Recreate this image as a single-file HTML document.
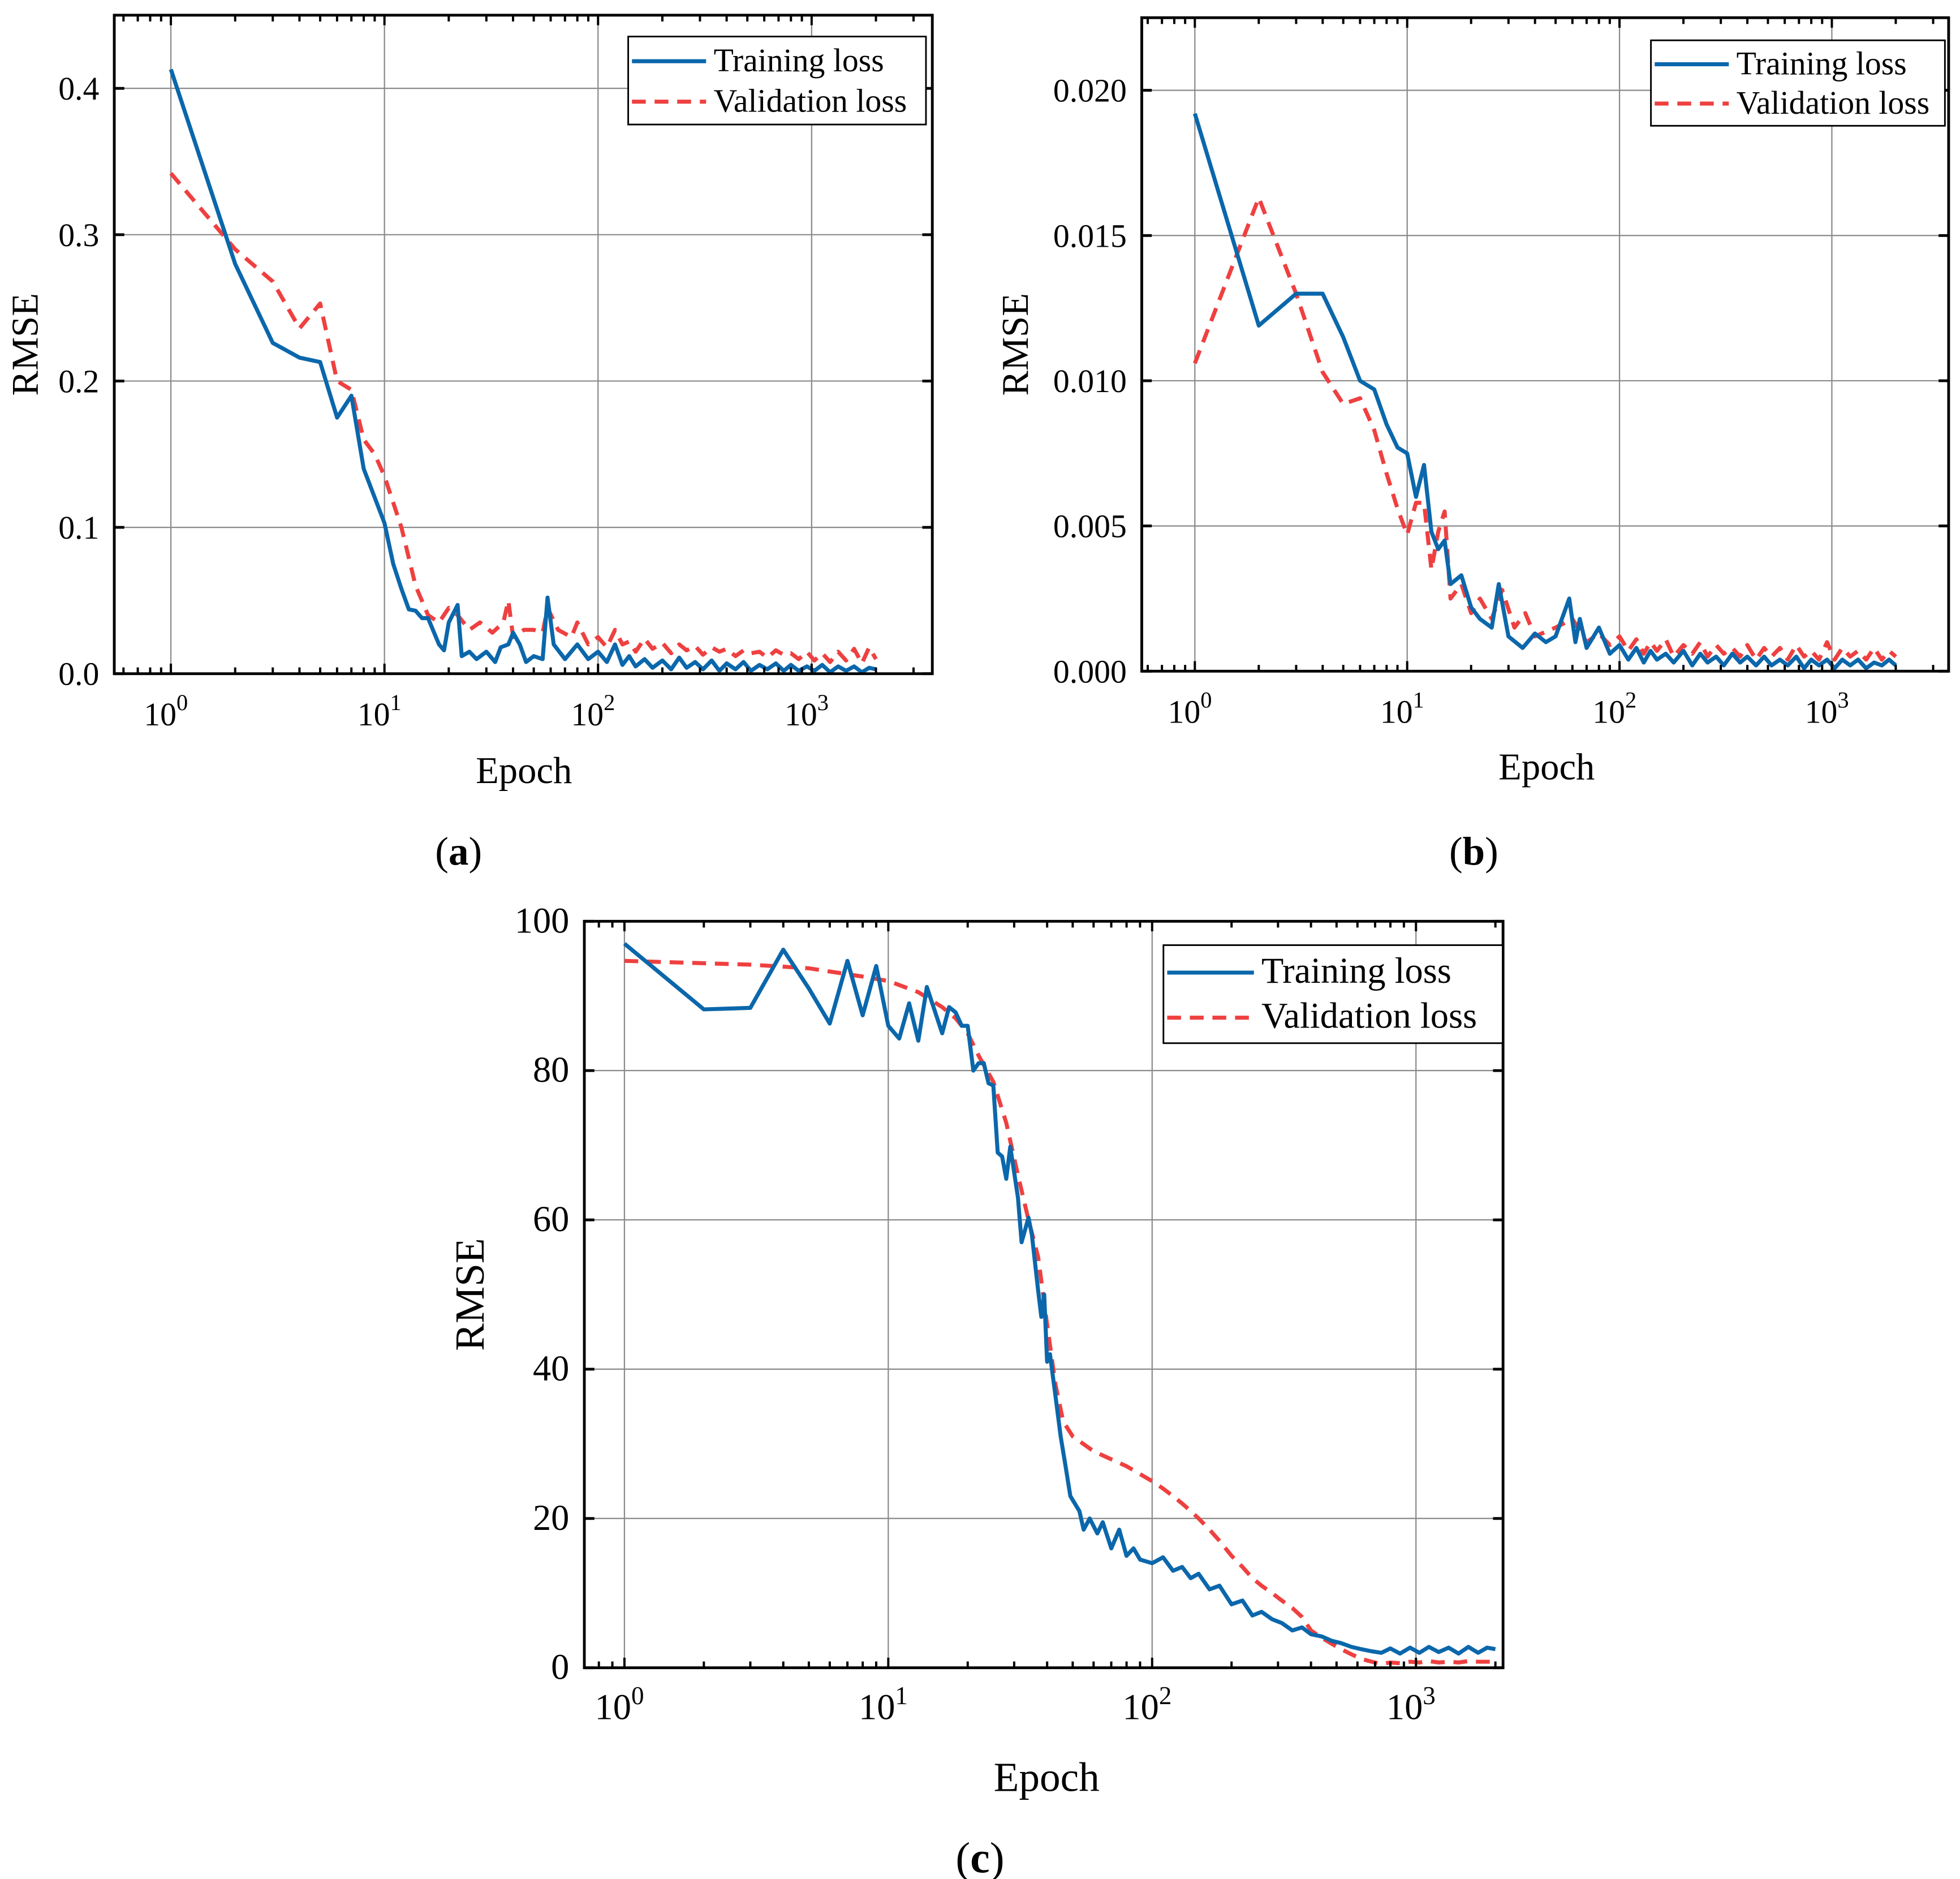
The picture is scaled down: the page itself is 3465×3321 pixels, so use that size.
<!DOCTYPE html>
<html><head><meta charset="utf-8"><title>RMSE loss curves</title>
<style>html,body{margin:0;padding:0;background:#fff}svg{display:block}</style></head>
<body>
<svg id="fig" xmlns="http://www.w3.org/2000/svg" width="3465" height="3321" viewBox="0 0 1560 1495" font-family="'Liberation Serif', serif"></svg>
<script>
// ---- Data ----
const tailEpochs=[100,110,120,130,140,150,165,180,200,220,240,260,285,310,340,370,400,440,480,520,570,620,680,740,800,870,950,1030,1120,1220,1330,1450,1580,1720,1860,2000];
const aTrainEpochs=[1,2,3,4,5,6,7,8,10,11,12,13,14,15,16,18,19,20,22,23,25,27,30,33,35,38,40,43,46,50,55,58,62,70,80,90];
const aTrainValues=[0.413,0.28,0.226,0.216,0.213,0.175,0.19,0.14,0.103,0.075,0.058,0.044,0.043,0.038,0.038,0.02,0.016,0.035,0.047,0.012,0.015,0.01,0.015,0.008,0.018,0.02,0.028,0.02,0.008,0.012,0.01,0.052,0.02,0.01,0.02,0.01];
const aTrainTail=[0.015,0.008,0.02,0.006,0.012,0.005,0.01,0.004,0.009,0.003,0.011,0.004,0.008,0.003,0.009,0.002,0.007,0.003,0.008,0.002,0.006,0.003,0.007,0.002,0.006,0.002,0.005,0.002,0.006,0.001,0.005,0.002,0.005,0.001,0.004,0.003];
const aValEpochs=[1,2,3,4,5,6,7,8,9,10,12,14,16,18,20,22,25,28,32,36,38,40,45,50,55,58,65,75,80,90];
const aValValues=[0.342,0.29,0.268,0.236,0.253,0.2,0.194,0.16,0.15,0.135,0.1,0.06,0.04,0.035,0.045,0.04,0.03,0.035,0.028,0.035,0.05,0.025,0.03,0.03,0.028,0.045,0.03,0.025,0.035,0.02];
const aValTail=[0.025,0.018,0.03,0.02,0.022,0.015,0.024,0.017,0.021,0.014,0.02,0.016,0.019,0.013,0.018,0.015,0.017,0.012,0.016,0.014,0.015,0.011,0.016,0.013,0.014,0.01,0.015,0.009,0.014,0.008,0.015,0.009,0.017,0.007,0.018,0.01];
const bTrainEpochs=[1,2,3,4,5,6,7,8,9,10,11,12,13,14,15,16,18,20,22,25,27,30,35,40,45,50,58,62,65,70,80,90];
const bTrainValues=[0.0192,0.0119,0.013,0.013,0.0115,0.01,0.0097,0.0085,0.0077,0.0075,0.006,0.0071,0.0048,0.0042,0.0045,0.003,0.0033,0.0022,0.0018,0.0015,0.003,0.0012,0.0008,0.0013,0.001,0.0012,0.0025,0.001,0.0018,0.0008,0.0015,0.0006];
const bTrainTail=[0.0009,0.0004,0.0008,0.0003,0.0007,0.0004,0.0006,0.0003,0.0007,0.0002,0.0006,0.0003,0.0005,0.0002,0.0006,0.0003,0.0005,0.0002,0.0005,0.0002,0.0004,0.0002,0.0005,0.0001,0.0004,0.0002,0.0004,0.0001,0.0004,0.0002,0.0004,0.0001,0.0003,0.0002,0.0004,0.0002];
const bValEpochs=[1,2,3,4,5,6,7,8,9,10,11,12,13,14,15,16,18,20,22,25,28,32,36,40,50,60,70,80,90];
const bValValues=[0.0106,0.0163,0.013,0.0103,0.0092,0.0094,0.0083,0.0068,0.0056,0.0047,0.0058,0.0058,0.0035,0.0048,0.0055,0.0025,0.003,0.002,0.0025,0.0018,0.0028,0.0015,0.002,0.0012,0.0015,0.0018,0.001,0.0013,0.0009];
const bValTail=[0.0012,0.0007,0.0011,0.0006,0.001,0.0007,0.0011,0.0005,0.0009,0.0006,0.001,0.0005,0.0009,0.0006,0.0008,0.0005,0.0009,0.0004,0.0008,0.0005,0.0008,0.0004,0.0009,0.0005,0.0007,0.0004,0.001,0.0004,0.0008,0.0005,0.0007,0.0004,0.0008,0.0004,0.0007,0.0005];
const cTrainEpochs=[1,2,3,4,5,6,7,8,9,10,11,12,13,14,15,16,17,18,19,20,21,22,23,24,25,26,27,28,29,31,32,34,35,37,38,39,40,41,43,45,47,49,53,55,58,62,65,70,75,80,85,90];
const cTrainValues=[97,88.2,88.4,96.2,91,86.3,94.7,87.4,94,86,84.3,89,84,91.2,88,85,88.5,87.8,86,86,80,81,81,78.3,78,69,68.5,65.5,69.8,63,57,60.3,58,50.5,47,50,41,42,36.5,31,27,23,21,18.5,20,18,19.5,16,18.5,15,16,14.5];
const cTrainTail=[14,14.8,13,13.5,12,12.6,10.5,11,8.5,9,7,7.5,6.5,6,5,5.4,4.5,4.2,3.6,3.3,2.8,2.5,2.2,2.0,2.6,1.9,2.7,2.0,2.8,2.1,2.7,1.9,2.8,2.0,2.7,2.5];
const cValEpochs=[1,3,5,8,10,13,16,18,20,22,25,28,31,34,37,40,43,46,50,60,80];
const cValValues=[94.7,94.2,93.7,92.6,92,90.5,88.5,87,85,82,78.5,73,66,60,55,46,38,33,31,29,27];
const cValTail=[25,24,23,22,21,20,18.5,17,15,13.5,12,11,10,9,8,6.8,5,4,3.2,2.5,1.8,1.2,0.8,0.5,0.7,0.6,0.8,0.7,0.9,0.7,0.8,0.7,0.9,0.8,0.8,0.8];
const xTickLabels=['0','1','2','3'];
const aYTicks=['0.0','0.1','0.2','0.3','0.4'];
const bYTicks=['0.000','0.005','0.010','0.015','0.020'];
const cYTicks=['0','20','40','60','80','100'];

const NS='http://www.w3.org/2000/svg';
const svg=document.getElementById('fig');
function mk(tag,attrs,parent,text){const e=document.createElementNS(NS,tag);for(const k in attrs)e.setAttribute(k,attrs[k]);if(text!==undefined)e.textContent=text;(parent||svg).appendChild(e);return e;}

function panel(o){
  const g=mk('g',{});
  
  
  const X=v=>o.x0+(Math.log10(v))*o.dec;
  const Y=v=>o.yb-(v/o.ymax)*(o.yb-o.top);
  const L=o.x0+o.lmin*o.dec, R=o.x0+o.lmax*o.dec;
  for(let d=0;d<=3;d++){const l=mk('line',{x1:X(Math.pow(10,d)),x2:X(Math.pow(10,d)),y1:o.top,y2:o.yb,stroke:'#8a8a8a','stroke-width':1},g);
    }
  o.yt.forEach((t,i)=>{const v=i*o.ystep;if(v>0){const l=mk('line',{x1:L,x2:R,y1:Y(v),y2:Y(v),stroke:'#8a8a8a','stroke-width':1},g);
    }});
  function series(ep,vals,tail,color,dash,nm){
    const pts=ep.map((e,i)=>[X(e),Y(vals[i])]).concat(tailEpochs.map((e,i)=>[X(e),Y(tail[i])]));
    const p=mk('polyline',{points:pts.map(p=>p[0].toFixed(1)+','+p[1].toFixed(1)).join(' '),fill:'none',stroke:color,'stroke-width':3.2,'stroke-dasharray':dash,'stroke-linejoin':'round'},g);
    
  }
  series(o.ve,o.vv,o.vt,'#ef4040','11,7','validation-loss-line');
  series(o.te,o.tv,o.tt,'#0b67ab','none','training-loss-line');
  const fr=mk('rect',{x:L,y:o.top,width:R-L,height:o.yb-o.top,fill:'none',stroke:'#000','stroke-width':2.2},g);
  
  for(let d=0;d<=3;d++){for(let m=1;m<=9;m++){const v=m*Math.pow(10,d);const x=X(v);if(x<L||x>R)continue;const len=m==1?8:5;
    mk('line',{x1:x,x2:x,y1:o.yb,y2:o.yb-len,stroke:'#000','stroke-width':1.8},g);mk('line',{x1:x,x2:x,y1:o.top,y2:o.top+len,stroke:'#000','stroke-width':1.8},g);}}
  for(let m=2;m<=9;m++){const x=X(m/10);if(x>=L){mk('line',{x1:x,x2:x,y1:o.yb,y2:o.yb-5,stroke:'#000','stroke-width':1.8},g);mk('line',{x1:x,x2:x,y1:o.top,y2:o.top+5,stroke:'#000','stroke-width':1.8},g);}}
  xTickLabels.forEach((t,d)=>{const tx=mk('text',{x:X(Math.pow(10,d))-4,y:o.yb+41,'text-anchor':'middle','font-size':o.fs},g);
    
    tx.appendChild(document.createTextNode('10'));mk('tspan',{dy:-12,'font-size':o.fs*0.7},tx,t);});
  o.yt.forEach((t,i)=>{const v=i*o.ystep;const y=Y(v);
    mk('line',{x1:L,x2:L+8,y1:y,y2:y,stroke:'#000','stroke-width':2.2},g);mk('line',{x1:R,x2:R-8,y1:y,y2:y,stroke:'#000','stroke-width':2.2},g);
    const tx=mk('text',{x:L-12,y:y+9,'text-anchor':'end','font-size':o.fs},g,t);});
  const xt=mk('text',{x:o.ex,y:o.ey,'text-anchor':'middle','font-size':o.fs+4},g,'Epoch');
  const yt=mk('text',{x:o.rx,y:o.ry,'text-anchor':'middle','font-size':o.fs+4,transform:`rotate(-90 ${o.rx} ${o.ry})`},g,'RMSE');
  const cap=mk('text',{x:o.cx,y:o.cy,'text-anchor':'middle','font-size':o.fs+6},g);
  cap.appendChild(document.createTextNode('('));mk('tspan',{'font-weight':'bold'},cap,o.letter);cap.appendChild(document.createTextNode(')'));
  const lg=mk('g',{},g);
  mk('rect',{x:o.lx,y:o.ly,width:o.lw,height:o.lh,fill:'#fff',stroke:'#000','stroke-width':1.3},lg);
  const r1=o.ly+o.lh*0.28,r2=o.ly+o.lh*0.74;
  mk('line',{x1:o.lx+3,x2:o.lx+o.ll,y1:r1,y2:r1,stroke:'#0b67ab','stroke-width':3.2},lg);
  mk('line',{x1:o.lx+3,x2:o.lx+o.ll,y1:r2,y2:r2,stroke:'#ef4040','stroke-width':3.2,'stroke-dasharray':'11,7'},lg);
  const t1=mk('text',{x:o.lx+o.ll+6,y:r1+8,'font-size':o.lfs},lg,'Training loss');
  const t2=mk('text',{x:o.lx+o.ll+6,y:r2+8,'font-size':o.lfs},lg,'Validation loss');
}
panel({name:'panel-a',letter:'a',x0:136,dec:170,lmin:-0.265,lmax:3.565,top:12,yb:536,ymax:0.45,ystep:0.1,yt:aYTicks,
  te:aTrainEpochs,tv:aTrainValues,tt:aTrainTail,ve:aValEpochs,vv:aValValues,vt:aValTail,fs:26,
  ex:417,ey:623,rx:30,ry:274,cx:365,cy:688,lx:500,ly:29,lw:237,lh:70,ll:62,lfs:26});
panel({name:'panel-b',letter:'b',x0:951,dec:169,lmin:-0.25,lmax:3.55,top:14,yb:534,ymax:0.0225,ystep:0.005,yt:bYTicks,
  te:bTrainEpochs,tv:bTrainValues,tt:bTrainTail,ve:bValEpochs,vv:bValValues,vt:bValTail,fs:26,
  ex:1231,ey:620,rx:818,ry:274,cx:1173,cy:688,lx:1314,ly:32,lw:234,lh:68,ll:62,lfs:26});
panel({name:'panel-c',letter:'c',x0:497,dec:210,lmin:-0.152,lmax:3.33,top:733,yb:1327,ymax:100,ystep:20,yt:cYTicks,
  te:cTrainEpochs,tv:cTrainValues,tt:cTrainTail,ve:cValEpochs,vv:cValValues,vt:cValTail,fs:29,
  ex:833,ey:1425,rx:385,ry:1030,cx:780,cy:1490,lx:926,ly:752,lw:270,lh:78,ll:72,lfs:29});
</script>
</body></html>
